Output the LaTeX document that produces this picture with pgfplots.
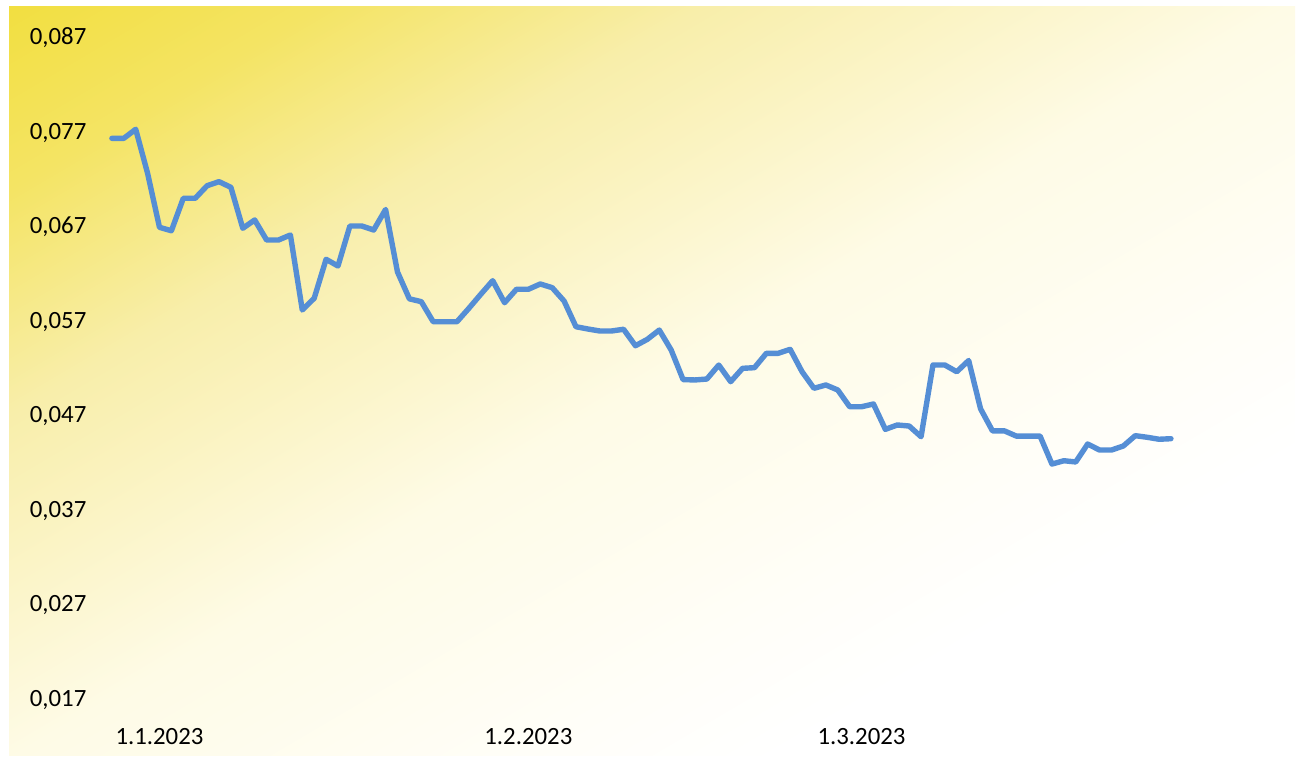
\documentclass[border=0pt]{standalone}
\usepackage{fontspec}
\setmainfont{Carlito}
\usepackage{pgfplots}
\pgfplotsset{compat=1.18}
\definecolor{g0}{HTML}{F2DF41}
\definecolor{g1}{HTML}{F4E464}
\definecolor{g2}{HTML}{F8EEAA}
\definecolor{g3}{HTML}{FEFBE6}
\definecolor{g4}{HTML}{FFFEF8}
\definecolor{linec}{RGB}{85,142,213}
\pgfdeclareverticalshading{bggrad}{100bp}{color(0bp)=(white); color(36.5bp)=(white); color(41bp)=(g4); color(50bp)=(g3); color(60.35bp)=(g2); color(67.1bp)=(g1); color(72.51bp)=(g0); color(100bp)=(g0)}
\begin{document}
\begin{tikzpicture}
\path[use as bounding box] (0,0) rectangle (648.5pt,381pt);
\begin{scope}
\clip (4.5pt,3.5pt) rectangle (647.5pt,377.5pt);
\shade[shading=bggrad, shading angle=30.44] (-34pt,-169.5pt) rectangle (686pt,550.5pt);
\end{scope}
\begin{axis}[
  scale only axis, width=590.2pt, height=331pt,
  at={(50pt,31pt)}, anchor=south west,
  xmin=-1, xmax=98.2, ymin=0.017, ymax=0.087,
  scaled y ticks=false, scaled x ticks=false,
  axis line style={draw=none}, tick style={draw=none},
  xtick={4,35,63}, xticklabels={1.1.2023,1.2.2023,1.3.2023},
  ytick={0.017,0.027,0.037,0.047,0.057,0.067,0.077,0.087},
  yticklabels={{0,017},{0,027},{0,037},{0,047},{0,057},{0,067},{0,077},{0,087}},
  tick label style={font=\fontsize{12.4pt}{15pt}\selectfont, text=black},
  xticklabel style={yshift=-10.5pt},
  yticklabel style={xshift=-3.3pt},
]
\addplot[color=linec, line width=2.7pt, line join=round, line cap=round, mark=none] table[x=x,y=y] {
x y
0 0.07639
1 0.07639
2 0.07735
3 0.07269
4 0.06698
5 0.06662
6 0.07005
7 0.07005
8 0.07138
9 0.07181
10 0.07121
11 0.06688
12 0.06776
13 0.06564
14 0.06564
15 0.06617
16 0.05824
17 0.05948
18 0.06360
19 0.06289
20 0.06712
21 0.06712
22 0.06670
23 0.06887
24 0.06226
25 0.05942
26 0.05912
27 0.05700
28 0.05700
29 0.05700
30 0.05842
31 0.05990
32 0.06134
33 0.05901
34 0.06043
35 0.06043
36 0.06099
37 0.06060
38 0.05919
39 0.05647
40 0.05623
41 0.05602
42 0.05602
43 0.05620
44 0.05446
45 0.05514
46 0.05612
47 0.05401
48 0.05088
49 0.05084
50 0.05094
51 0.05242
52 0.05066
53 0.05207
54 0.05214
55 0.05366
56 0.05366
57 0.05408
58 0.05171
59 0.04996
60 0.05031
61 0.04978
62 0.04801
63 0.04801
64 0.04830
65 0.04562
66 0.04608
67 0.04597
68 0.04484
69 0.05242
70 0.05242
71 0.05171
72 0.05290
73 0.04779
74 0.04546
75 0.04546
76 0.04491
77 0.04491
78 0.04491
79 0.04195
80 0.04230
81 0.04217
82 0.04407
83 0.04343
84 0.04343
85 0.04386
86 0.04495
87 0.04478
88 0.04457
89 0.04463
};
\end{axis}
\end{tikzpicture}
\end{document}
